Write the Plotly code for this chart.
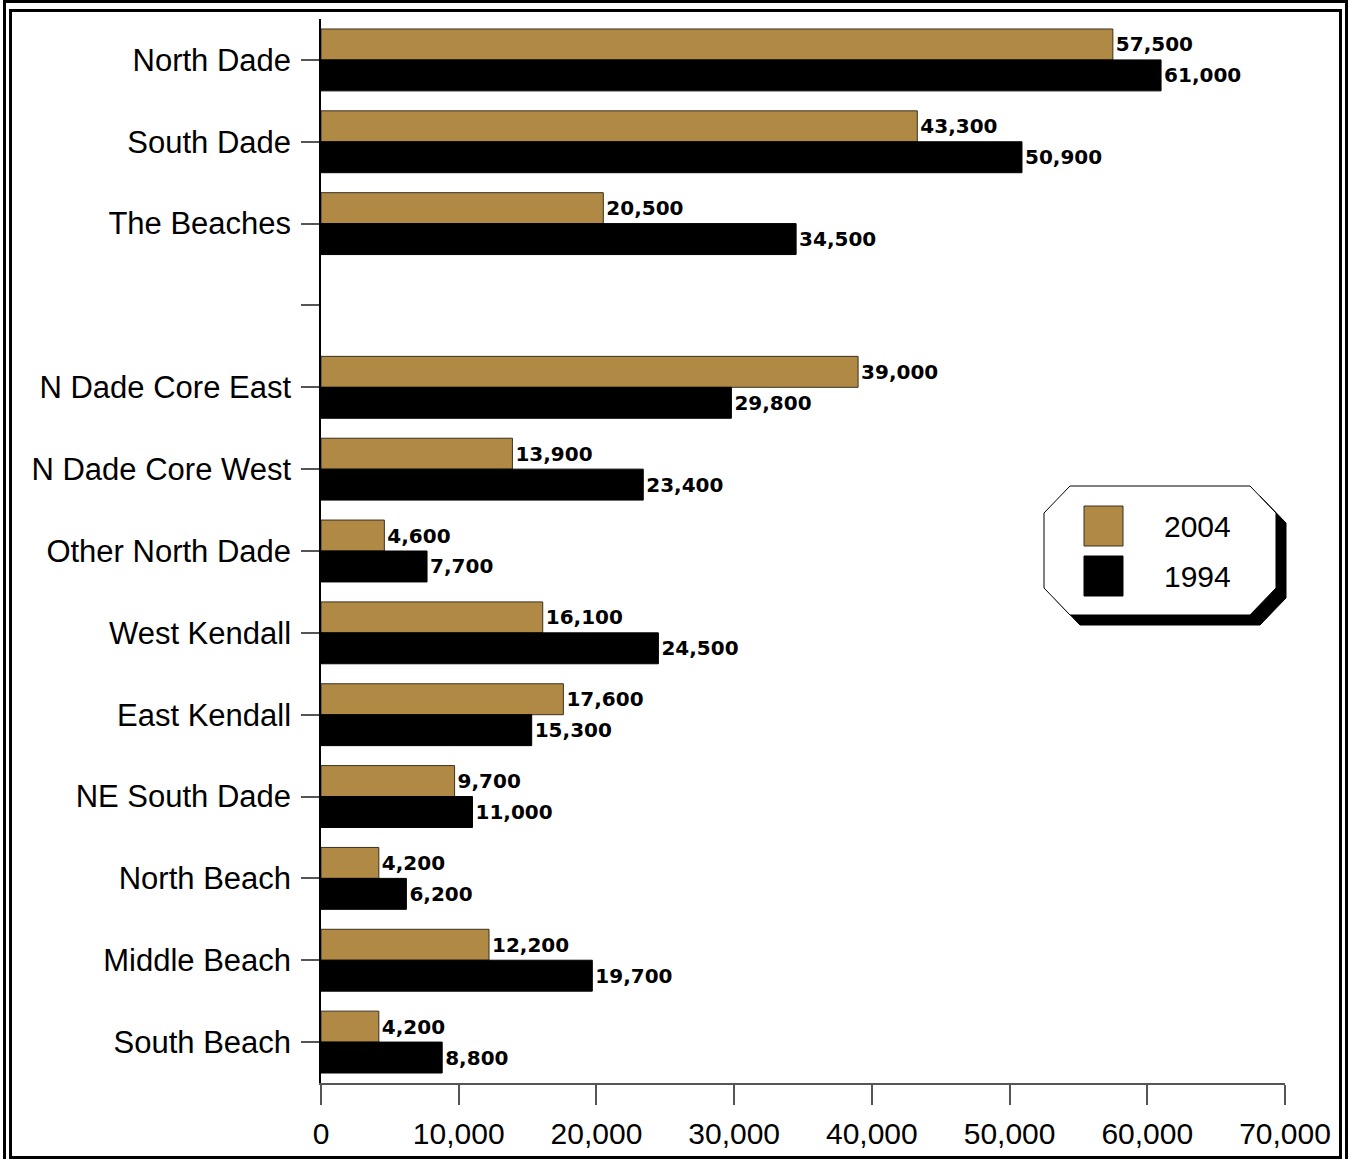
import plotly.graph_objects as go

# Employment by area, 2004 vs 1994
categories = [
    "North Dade", "South Dade", "The Beaches", " ",
    "N Dade Core East", "N Dade Core West", "Other North Dade",
    "West Kendall", "East Kendall", "NE South Dade",
    "North Beach", "Middle Beach", "South Beach",
]
values_2004 = [57500, 43300, 20500, None, 39000, 13900, 4600,
               16100, 17600, 9700, 4200, 12200, 4200]
values_1994 = [61000, 50900, 34500, None, 29800, 23400, 7700,
               24500, 15300, 11000, 6200, 19700, 8800]
series_names = ["2004", "1994"]
x_ticks = [0, 10000, 20000, 30000, 40000, 50000, 60000, 70000]

GOLD = "#B08A44"
W, H = 1348, 1159
L, R, T, B = 321, 1285, 19, 1083   # plot area in pixels
LABEL_FONT = "Liberation Sans, Arial, sans-serif"


def px(x):
    return (x - L) / (R - L)


def py(y):
    return (B - y) / (B - T)


value_font = dict(family="DejaVu Sans", size=20, color="black", weight="bold")

fig = go.Figure()
fig.add_trace(go.Bar(
    name=series_names[0], y=categories, x=values_2004, orientation="h",
    marker=dict(color=GOLD, line=dict(color="#3a3020", width=1)),
    texttemplate="%{x:,.0f}", textposition="outside", cliponaxis=False,
    textfont=value_font,
))
fig.add_trace(go.Bar(
    name=series_names[1], y=categories, x=values_1994, orientation="h",
    marker=dict(color="black", line=dict(color="black", width=1)),
    texttemplate="%{x:,.0f}", textposition="outside", cliponaxis=False,
    textfont=value_font,
))

shapes = []
# double frame around the figure
shapes.append(dict(type="rect", xref="paper", yref="paper",
                   x0=px(4.5), x1=px(1346.5), y0=py(1.5), y1=py(1170),
                   line=dict(color="black", width=3), fillcolor="rgba(0,0,0,0)", layer="above"))
shapes.append(dict(type="rect", xref="paper", yref="paper",
                   x0=px(10.5), x1=px(1340.5), y0=py(10.5), y1=py(1157.5),
                   line=dict(color="black", width=3), fillcolor="rgba(0,0,0,0)", layer="above"))


def octagon(dx, dy):
    pts = [(1070, 486), (1250, 486), (1276, 513), (1276, 588),
           (1250, 615), (1070, 615), (1044, 588), (1044, 513)]
    return "M " + " L ".join(f"{px(x + dx):.5f},{py(y + dy):.5f}" for x, y in pts) + " Z"


# legend box with drop shadow
shapes.append(dict(type="path", xref="paper", yref="paper", path=octagon(10, 10),
                   fillcolor="black", line=dict(color="black", width=1), layer="above"))
shapes.append(dict(type="path", xref="paper", yref="paper", path=octagon(0, 0),
                   fillcolor="white", line=dict(color="black", width=1), layer="above"))
# legend swatches
shapes.append(dict(type="rect", xref="paper", yref="paper",
                   x0=px(1084), x1=px(1123), y0=py(506), y1=py(546),
                   fillcolor=GOLD, line=dict(color="#3a3020", width=1), layer="above"))
shapes.append(dict(type="rect", xref="paper", yref="paper",
                   x0=px(1084), x1=px(1123), y0=py(556), y1=py(596),
                   fillcolor="black", line=dict(color="black", width=1), layer="above"))

annotations = [
    dict(xref="paper", yref="paper", x=px(1197), y=py(526), text=series_names[0],
         showarrow=False, font=dict(family=LABEL_FONT, size=30, color="black"),
         xanchor="center", yanchor="middle"),
    dict(xref="paper", yref="paper", x=px(1197), y=py(576), text=series_names[1],
         showarrow=False, font=dict(family=LABEL_FONT, size=30, color="black"),
         xanchor="center", yanchor="middle"),
]

fig.update_layout(
    width=W, height=H,
    margin=dict(l=L, r=W - R, t=T, b=H - B, pad=0, autoexpand=False),
    paper_bgcolor="white", plot_bgcolor="white",
    barmode="group", bargap=0.244, bargroupgap=0,
    showlegend=False,
    shapes=shapes, annotations=annotations,
    uniformtext=dict(mode=False),
    xaxis=dict(
        range=[0, 70000], tickvals=x_ticks, tickformat=",d",
        showgrid=False, zeroline=False, automargin=False,
        showline=True, linecolor="#555555", linewidth=1.5,
        ticks="outside", ticklen=20, tickcolor="#555555", tickwidth=1.5,
        tickfont=dict(family=LABEL_FONT, size=30, color="black"),
        ticklabelstandoff=3,
    ),
    yaxis=dict(
        categoryorder="array", categoryarray=categories,
        autorange="reversed", automargin=False,
        showgrid=False, zeroline=False,
        showline=True, linecolor="black", linewidth=1.5,
        ticks="outside", ticklen=18, tickcolor="#555555", tickwidth=1.5,
        tickfont=dict(family=LABEL_FONT, size=31, color="black"),
        ticklabelstandoff=4,
    ),
)

fig.write_html("out.html")
